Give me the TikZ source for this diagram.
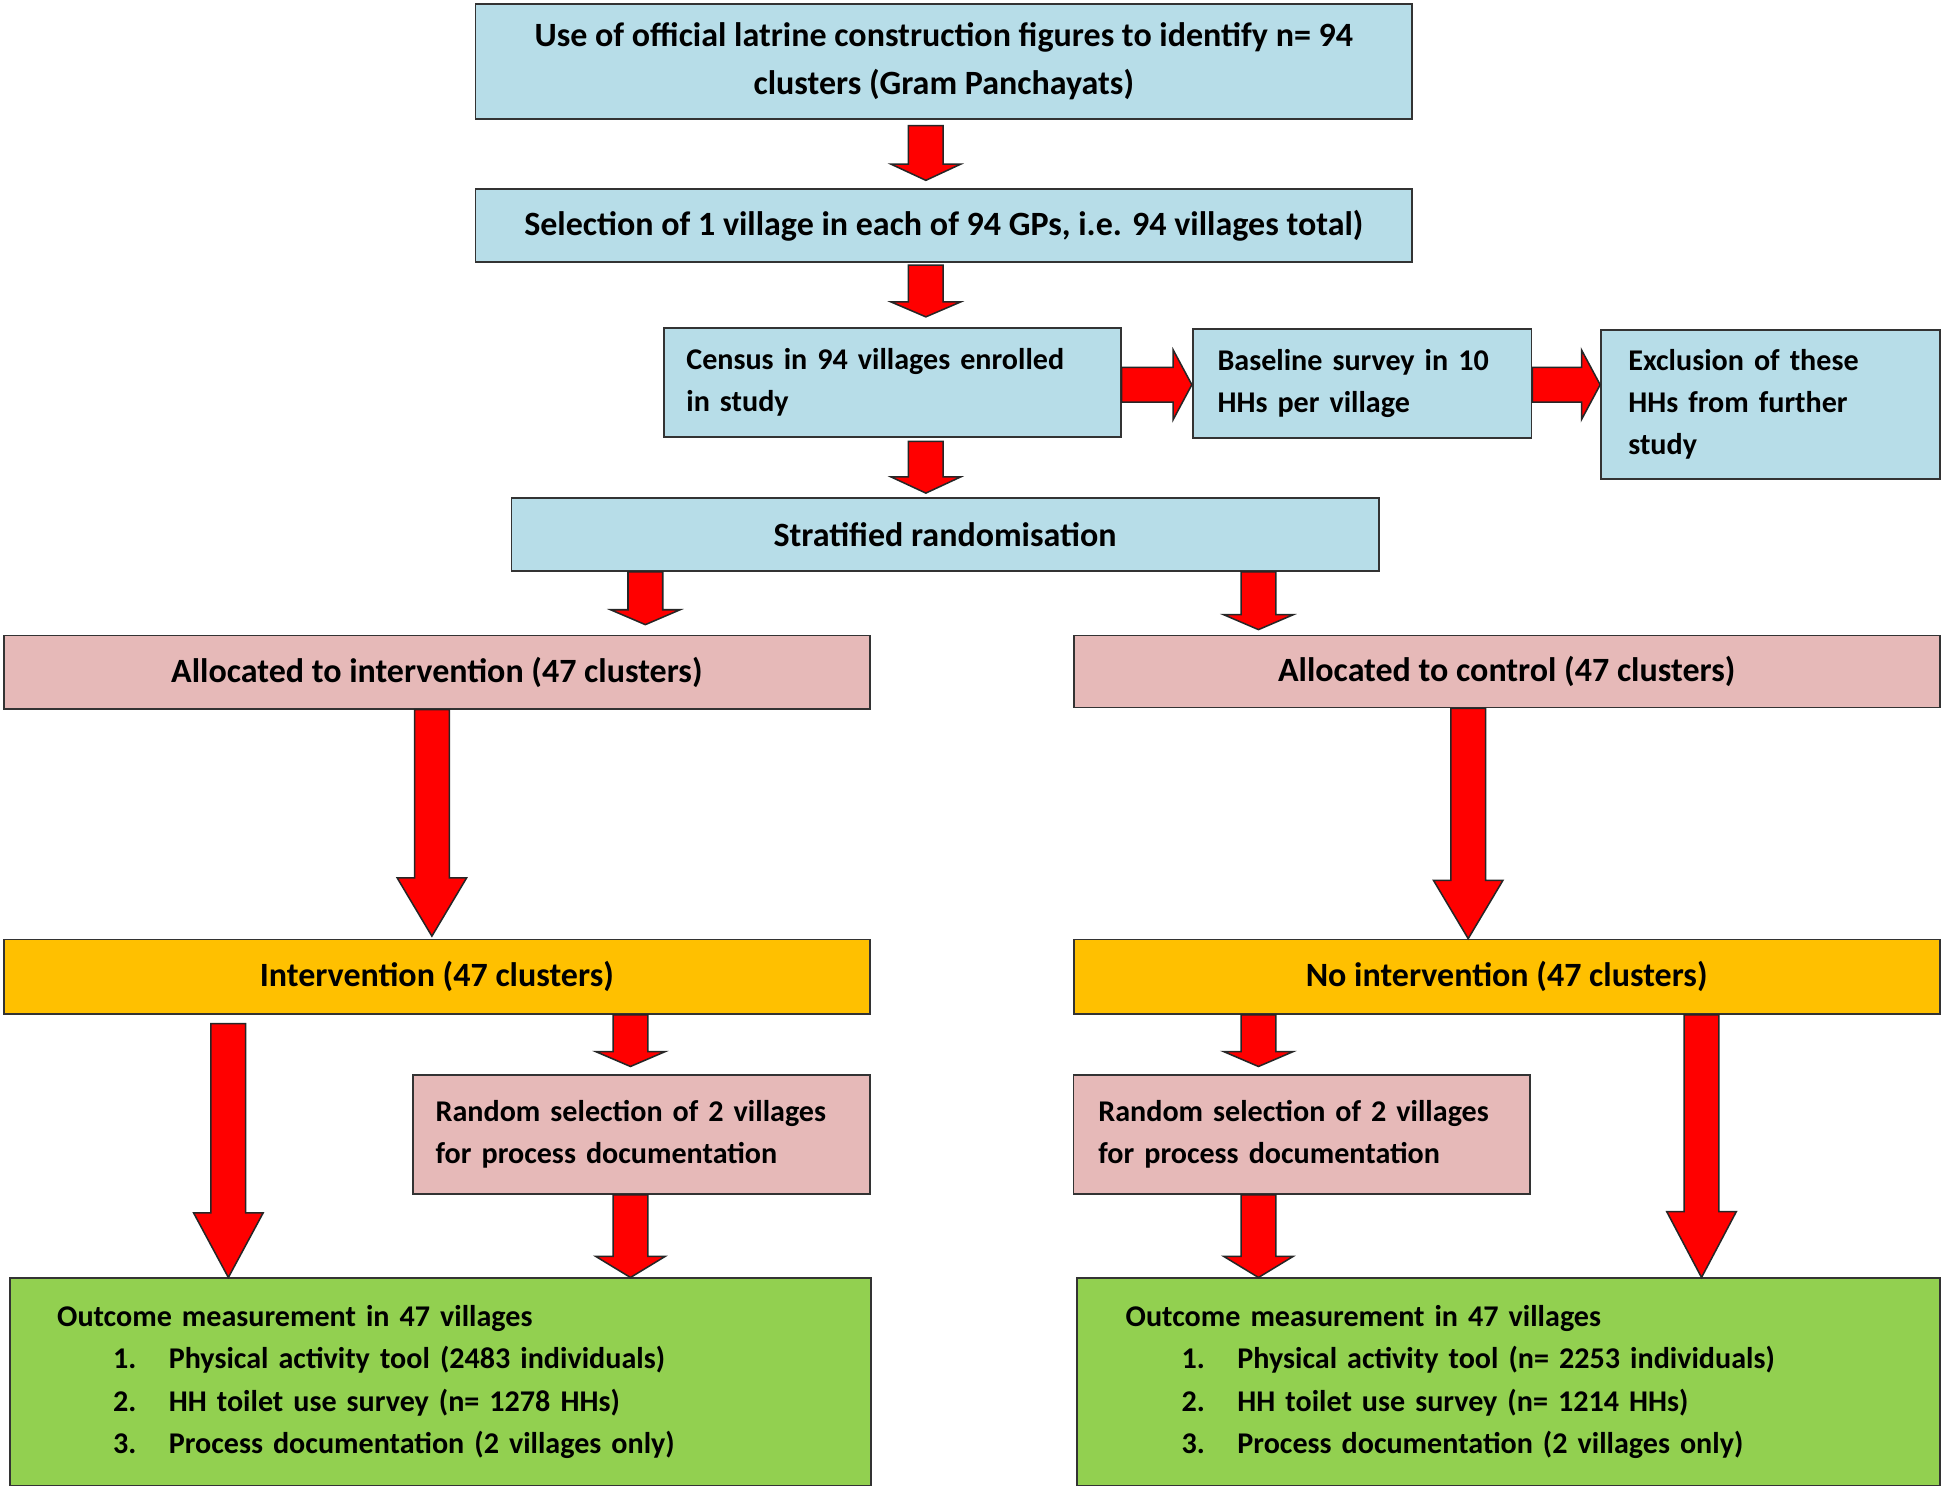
\documentclass[tikz,border=0pt]{standalone}
\usepackage{fontspec}
\setmainfont{Carlito}
\usetikzlibrary{calc}
\definecolor{boxblue}{HTML}{B7DDE8}
\definecolor{boxpink}{HTML}{E6B9B8}
\definecolor{boxorange}{HTML}{FFC000}
\definecolor{boxgreen}{HTML}{92D050}
\newcommand{\vfat}[6]{%
  \path ($(#1.south)+(#3,#5)$) coordinate (fa);
  \path (fa |- #2.north) coordinate (fz0);
  \path ($(fz0)+(0,-#6)$) coordinate (fz);
  \draw[fat] ($(fa)+(-14,0)$) -- ($(fz)+(-14,-#4)$) -- ($(fz)+(-28,-#4)$) -- (fz)
    -- ($(fz)+(28,-#4)$) -- ($(fz)+(14,-#4)$) -- ($(fa)+(14,0)$) -- cycle;}
\newcommand{\hfat}[4]{%
  \path ($(#1.east)+(0,#3)$) coordinate (fa);
  \path (fa -| #2.west) coordinate (fz);
  \draw[fat] ($(fa)+(0,-14)$) -- ($(fz)+(-#4,-14)$) -- ($(fz)+(-#4,-28)$) -- (fz)
    -- ($(fz)+(-#4,28)$) -- ($(fz)+(-#4,14)$) -- ($(fa)+(0,14)$) -- cycle;}
\newcommand{\itm}[2]{\hspace*{0.9cm}\makebox[0.9cm][l]{#1}#2}
\begin{document}
\begin{tikzpicture}[x=0.02cm, y=-0.02cm,
    box/.style={draw=black!80, line width=0.8pt, inner sep=0pt, align=center,
      font=\bfseries\fontsize{15.6}{19.5}\selectfont},
    small/.style={align=left, font=\bfseries\fontsize{13.8}{19.3}\selectfont},
    blue/.style={box, fill=boxblue},
    pink/.style={box, fill=boxpink},
    orange/.style={box, fill=boxorange},
    green/.style={box, fill=boxgreen},
    fat/.style={fill=red, draw=black!85, line width=0.7pt, line join=miter}]
  \useasboundingbox (0,0) rectangle (1568,1201);
  \node[blue, minimum width=15.10cm, minimum height=1.86cm, font=\bfseries\fontsize{15.6}{21.8}\selectfont] (top) at (760.5,49.5)
    {Use of official latrine construction figures to identify n= 94\\clusters (Gram Panchayats)};
  \node[blue, minimum width=15.10cm, minimum height=1.18cm] (villages) at (760.5,181.5)
    {Selection of 1 village in each of 94 GPs, i.e. 94 villages total)};
  \node[blue, small, minimum width=7.36cm, minimum height=1.76cm, text width=6.64cm, inner xsep=0.36cm] (census) at (719,308)
    {Census in 94 villages enrolled\\in study};
  \node[blue, small, minimum width=5.46cm, minimum height=1.76cm, text width=4.66cm, inner xsep=0.4cm] (baseline) at (1097.5,309)
    {Baseline survey in 10\\HHs per village};
  \node[blue, small, minimum width=5.46cm, minimum height=2.4cm, text width=4.58cm, inner xsep=0.44cm] (exclusion) at (1426.5,326)
    {Exclusion of these\\HHs from further\\study};
  \node[blue, minimum width=13.98cm, minimum height=1.18cm] (strat) at (761.5,430.5)
    {Stratified randomisation};
  \node[pink, minimum width=13.96cm, minimum height=1.18cm] (allocI) at (352,541.5)
    {Allocated to intervention (47 clusters)};
  \node[pink, minimum width=13.96cm, minimum height=1.16cm] (allocC) at (1214,541)
    {Allocated to control (47 clusters)};
  \node[orange, minimum width=13.96cm, minimum height=1.2cm] (interv) at (352,787)
    {Intervention (47 clusters)};
  \node[orange, minimum width=13.96cm, minimum height=1.2cm] (nointerv) at (1214,787)
    {No intervention (47 clusters)};
  \node[pink, small, minimum width=7.36cm, minimum height=1.92cm, text width=6.64cm, inner xsep=0.36cm] (randI) at (517,914)
    {Random selection of 2 villages\\for process documentation};
  \node[pink, small, minimum width=7.36cm, minimum height=1.92cm, text width=6.56cm, inner xsep=0.4cm] (randC) at (1049,914)
    {Random selection of 2 villages\\for process documentation};
  \node[green, small, minimum width=13.88cm, minimum height=3.34cm, text width=12.36cm, inner xsep=0.76cm] (outI) at (355,1113.5)
    {Outcome measurement in 47 villages\\
     \itm{1.}{Physical activity tool (2483 individuals)}\\
     \itm{2.}{HH toilet use survey (n= 1278 HHs)}\\
     \itm{3.}{Process documentation (2 villages only)}};
  \node[green, small, minimum width=13.90cm, minimum height=3.34cm, text width=12.34cm, inner xsep=0.78cm] (outC) at (1215.5,1113.5)
    {Outcome measurement in 47 villages\\
     \itm{1.}{Physical activity tool (n= 2253 individuals)}\\
     \itm{2.}{HH toilet use survey (n= 1214 HHs)}\\
     \itm{3.}{Process documentation (2 villages only)}};
  \foreach \s/\t/\dx/\hl/\ga/\gb in {top/villages/-14.5/13/4.5/6, villages/census/-14.5/12/2/8,
      census/strat/27/13/3/3, strat/allocI/-241.5/12/0/8, strat/allocC/252.5/12/0/4,
      allocI/interv/-4/47/0/2, allocC/nointerv/-31/47/0/0, interv/outI/-168/52/7/0,
      interv/randI/156/12/0/6, randI/outI/-9/17/0/0, nointerv/randC/-200/12/0/6,
      randC/outC/-35/17/0/0, nointerv/outC/157/53/0/0}
    {\vfat{\s}{\t}{\dx}{\hl}{\ga}{\gb}}
  \hfat{census}{baseline}{2}{15}
  \hfat{baseline}{exclusion}{1}{15}
\end{tikzpicture}
\end{document}
